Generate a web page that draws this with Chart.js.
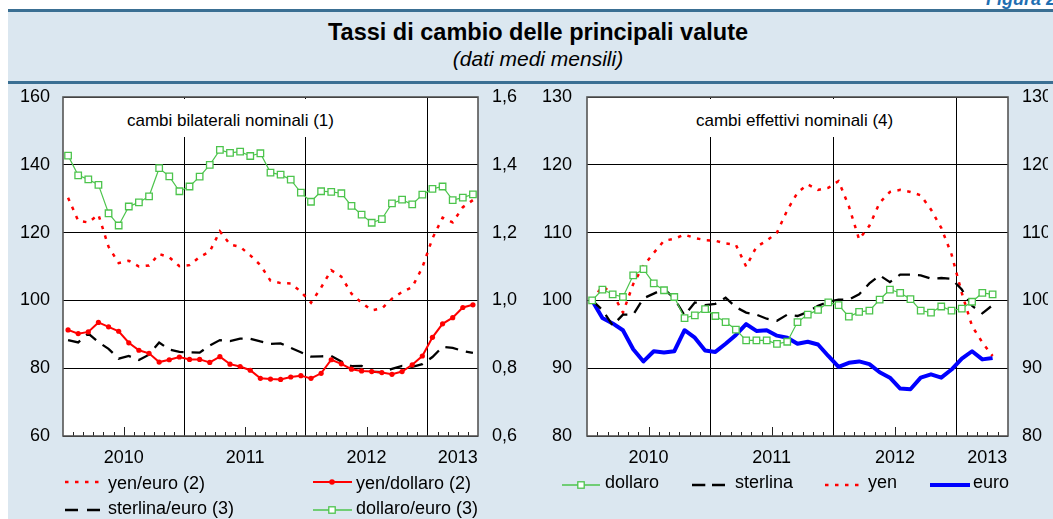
<!DOCTYPE html>
<html><head><meta charset="utf-8">
<script src="https://cdn.jsdelivr.net/npm/chart.js@4.4.0/dist/chart.umd.min.js"></script>
<style>
html,body{margin:0;padding:0;background:#fff;}
body{width:1053px;height:519px;position:relative;overflow:hidden;font-family:"Liberation Sans",Arial,Helvetica,sans-serif;color:#000;}
#panel{position:absolute;left:8px;top:10px;width:1045px;height:509px;background:#dbe7f0;}
.hline{position:absolute;left:8px;width:1045px;height:3px;background:#3a6f93;}
#fig{position:absolute;left:986px;top:-10px;font-size:18px;font-weight:bold;font-style:italic;color:#1f6fb2;line-height:1;white-space:nowrap;}
#title{position:absolute;left:0;width:1076px;top:21px;text-align:center;font-weight:bold;font-size:23.5px;line-height:1;}
#subtitle{position:absolute;left:0;width:1076px;top:48px;text-align:center;font-style:italic;font-size:21px;line-height:1;}
canvas{position:absolute;top:0;}
.box{position:absolute;background:#fff;top:99px;height:38px;}
.intitle{position:absolute;top:112px;font-size:17px;line-height:1;white-space:nowrap;}
.lt{position:absolute;font-size:18px;line-height:1;white-space:nowrap;}
svg{position:absolute;overflow:visible;}
</style>
</head><body>
<div id="fig">Figura 2.</div>
<div id="panel"></div>
<div class="hline" style="top:9px"></div>
<div class="hline" style="top:81px"></div>
<div id="title">Tassi di cambio delle principali valute</div>
<div id="subtitle">(dati medi mensili)</div>
<canvas id="c1" width="525" height="519" style="left:0;width:525px;height:519px"></canvas>
<canvas id="c2" width="528" height="519" style="left:525px;width:528px;height:519px"></canvas>

<div class="box" style="left:120px;width:232px"></div>
<div class="intitle" style="left:127px">cambi bilaterali nominali (1)</div>
<div class="box" style="left:690px;width:222px"></div>
<div class="intitle" style="left:696px">cambi effettivi nominali (4)</div>

<!-- left legend -->
<svg style="left:63px;top:477px" width="42" height="10"><line x1="2" y1="5" x2="40" y2="5" stroke="#ff0000" stroke-width="2.5" stroke-dasharray="3.5 6.5"/></svg>
<div class="lt" style="left:108px;top:474px">yen/euro (2)</div>
<svg style="left:311px;top:477px" width="44" height="10"><line x1="2" y1="5" x2="41" y2="5" stroke="#ff0000" stroke-width="2"/><circle cx="21" cy="5" r="2.8" fill="#ff0000"/></svg>
<div class="lt" style="left:356px;top:474px">yen/dollaro (2)</div>
<svg style="left:63px;top:505px" width="42" height="10"><line x1="2" y1="5" x2="38" y2="5" stroke="#000" stroke-width="2.5" stroke-dasharray="13 9"/></svg>
<div class="lt" style="left:108px;top:499px">sterlina/euro (3)</div>
<svg style="left:311px;top:505px" width="44" height="10"><line x1="2" y1="5" x2="41" y2="5" stroke="#4cc44c" stroke-width="1.3"/><rect x="17.8" y="1.8" width="6.4" height="6.4" fill="#fff" stroke="#4cc44c" stroke-width="1.3"/></svg>
<div class="lt" style="left:356px;top:499px">dollaro/euro (3)</div>

<!-- right legend -->
<svg style="left:560px;top:480px" width="44" height="10"><line x1="2" y1="5" x2="40" y2="5" stroke="#4cc44c" stroke-width="1.3"/><rect x="17.8" y="1.8" width="6.4" height="6.4" fill="#fff" stroke="#4cc44c" stroke-width="1.3"/></svg>
<div class="lt" style="left:605px;top:473px">dollaro</div>
<svg style="left:690px;top:480px" width="40" height="10"><line x1="2" y1="5" x2="35" y2="5" stroke="#000" stroke-width="2.5" stroke-dasharray="13.3 6.7"/></svg>
<div class="lt" style="left:735px;top:473px">sterlina</div>
<svg style="left:823px;top:480px" width="44" height="10"><line x1="2" y1="5" x2="40" y2="5" stroke="#ff0000" stroke-width="2.5" stroke-dasharray="3.5 6.5"/></svg>
<div class="lt" style="left:868px;top:473px">yen</div>
<svg style="left:928px;top:480px" width="44" height="10"><line x1="2" y1="5" x2="42" y2="5" stroke="#0000ff" stroke-width="4"/></svg>
<div class="lt" style="left:973px;top:473px">euro</div>

<script>
// ---------- DATA ----------
const categories = [
 'gen 10','feb 10','mar 10','apr 10','mag 10','giu 10','lug 10','ago 10','set 10','ott 10','nov 10','dic 10',
 'gen 11','feb 11','mar 11','apr 11','mag 11','giu 11','lug 11','ago 11','set 11','ott 11','nov 11','dic 11',
 'gen 12','feb 12','mar 12','apr 12','mag 12','giu 12','lug 12','ago 12','set 12','ott 12','nov 12','dic 12',
 'gen 13','feb 13','mar 13','apr 13','mag 13'];
const yearLabels = ['2010','2011','2012','2013'];

// cambi bilaterali nominali (left axis: yen; right axis: dollari/sterline per euro)
const yenEuro = [130.3,123.5,123.0,125.3,115.8,111.0,111.7,110.0,110.3,113.7,112.7,110.1,
 110.4,112.8,114.4,120.4,116.5,115.8,113.3,110.4,105.8,105.1,105.0,102.6,
 99.3,103.8,108.9,107.0,102.0,99.3,97.1,97.6,100.5,102.5,103.9,109.7,
 118.3,124.4,123.0,127.5,129.6];
const yenDollaro = [91.3,90.2,90.7,93.5,92.2,90.9,87.5,85.3,84.4,81.8,82.5,83.3,
 82.6,82.6,81.7,83.4,81.2,80.5,79.4,77.0,76.8,76.7,77.4,77.8,
 77.0,78.5,82.5,81.3,79.7,79.2,79.0,78.7,78.2,79.0,81.0,83.6,
 89.1,93.1,94.9,97.9,98.7];
const sterlinaEuro = [0.883,0.876,0.902,0.877,0.857,0.828,0.836,0.824,0.840,0.876,0.855,0.848,
 0.847,0.846,0.867,0.883,0.880,0.887,0.887,0.879,0.872,0.873,0.860,0.847,
 0.834,0.835,0.836,0.820,0.806,0.807,0.790,0.788,0.798,0.807,0.804,0.812,
 0.833,0.863,0.860,0.851,0.845];
const dollaroEuro = [1.427,1.369,1.357,1.341,1.257,1.221,1.277,1.289,1.307,1.390,1.366,1.322,
 1.336,1.365,1.400,1.444,1.435,1.439,1.426,1.434,1.377,1.371,1.356,1.318,
 1.291,1.322,1.320,1.316,1.279,1.253,1.229,1.240,1.286,1.297,1.283,1.312,
 1.329,1.336,1.296,1.303,1.313];

// cambi effettivi nominali (gen 2010 = 100)
const effDollaro = [100.0,101.6,100.9,100.5,103.7,104.6,102.5,101.5,100.5,97.4,97.8,98.7,
 97.7,96.8,95.7,94.1,94.1,94.1,93.6,93.9,96.8,97.9,98.6,99.7,
 99.3,97.6,98.3,98.5,100.1,101.6,101.1,100.2,98.5,98.2,99.1,98.5,
 98.8,99.8,101.1,100.9];
const effSterlina = [100.0,98.6,96.3,97.9,97.9,100.3,101.0,101.7,100.3,97.8,99.7,99.3,
 99.5,100.4,99.0,98.2,97.9,97.3,97.0,97.9,97.7,98.3,99.2,99.8,
 100.1,100.1,100.9,102.5,103.7,102.7,103.8,103.8,103.7,103.2,103.3,103.2,
 101.6,99.2,98.1,99.3];
const effYen = [100.0,102.1,101.0,98.2,102.4,105.1,107.0,108.8,109.1,109.7,109.2,108.9,
 108.8,108.4,108.2,105.0,107.9,108.8,110.0,113.3,115.9,117.1,116.3,116.6,
 117.6,113.9,109.0,111.0,114.4,116.0,116.3,116.0,115.5,113.4,110.7,106.8,
 101.1,96.2,93.8,91.8];
const effEuro = [100.0,97.4,96.6,95.6,92.8,91.0,92.5,92.3,92.5,95.6,94.5,92.6,
 92.4,93.6,94.9,96.5,95.5,95.6,94.8,94.5,93.6,93.9,93.5,91.8,
 90.2,90.8,91.0,90.6,89.4,88.6,87.0,86.9,88.6,89.1,88.6,89.8,
 91.4,92.5,91.3,91.5];

// ---------- STYLE ----------
const RED = '#ff0000', GREEN = '#4cc44c', BLUE = '#0000ff', BLACK = '#000000';
const FONT = '"Liberation Sans", Arial, Helvetica, sans-serif';
Chart.defaults.font.family = FONT;
Chart.defaults.font.size = 18;
Chart.defaults.color = '#000';

// year label shown at the middle month of each year present in categories
function yearLabel(i) {
  const yy = categories[i].slice(4);
  const idx = categories.map((c, k) => c.slice(4) === yy ? k : -1).filter(k => k >= 0);
  const mid = idx[0] + Math.floor((idx.length - 1) / 2);
  if (i !== mid) return '';
  const lab = '20' + yy;
  return yearLabels.includes(lab) ? lab : '';
}

const areaBg = {
  id: 'areaBg',
  beforeDraw(chart) {
    const {ctx, chartArea: a} = chart;
    ctx.save(); ctx.fillStyle = '#fff'; ctx.fillRect(a.left, a.top, a.width, a.height); ctx.restore();
  }
};
const frameTicks = {
  id: 'frameTicks',
  afterDraw(chart) {
    const {ctx, chartArea: a} = chart; const xs = chart.scales.x;
    ctx.save();
    ctx.strokeStyle = '#222'; ctx.lineWidth = 1;
    for (let i = 1; i < categories.length; i++) {
      const c = categories[i];
      if (c.startsWith('gen')) continue;
      const px = Math.round((xs.getPixelForValue(i - 1) + xs.getPixelForValue(i)) / 2) + 0.5;
      const len = c.startsWith('lug') ? 9 : 4;
      ctx.beginPath(); ctx.moveTo(px, a.bottom); ctx.lineTo(px, a.bottom - len); ctx.stroke();
    }
    ctx.strokeStyle = '#555'; ctx.lineWidth = 1.6;
    ctx.strokeRect(a.left, a.top, a.width, a.height);
    ctx.restore();
  }
};

function xScale() {
  return {
    type: 'category', offset: true,
    grid: {
      offset: true, drawTicks: false, lineWidth: 1,
      color: ctx => (ctx.index > 0 && categories[ctx.index] && categories[ctx.index].startsWith('gen')) ? '#000' : 'rgba(0,0,0,0)'
    },
    border: {display: false},
    ticks: {autoSkip: false, maxRotation: 0, minRotation: 0, padding: 11, labelOffset: 5,
            callback: (v, i) => yearLabel(i)},
    afterFit: s => { s.height = 40; }
  };
}

function lineDs(label, data, axis, opts) {
  return Object.assign({label, data, yAxisID: axis, fill: false, tension: 0, pointRadius: 0,
                        borderCapStyle: 'butt'}, opts);
}

const common = {
  responsive: false, animation: false, events: [],
  plugins: {legend: {display: false}, tooltip: {enabled: false}, title: {display: false}}
};

// ---------- LEFT CHART ----------
new Chart(document.getElementById('c1'), {
  type: 'line',
  data: {
    labels: categories,
    datasets: [
      lineDs('dollaro/euro (3)', dollaroEuro, 'y2', {borderColor: GREEN, borderWidth: 1.2, pointRadius: 4.6,
        pointStyle: 'rect', pointBackgroundColor: '#fff', pointBorderColor: GREEN, pointBorderWidth: 1.3}),
      lineDs('yen/dollaro (2)', yenDollaro, 'y', {borderColor: RED, borderWidth: 2, pointRadius: 2.6,
        pointStyle: 'circle', pointBackgroundColor: RED, pointBorderColor: RED, pointBorderWidth: 0}),
      lineDs('yen/euro (2)', yenEuro, 'y', {borderColor: RED, borderWidth: 2.5, borderDash: [3.5, 6.5]}),
      lineDs('sterlina/euro (3)', sterlinaEuro, 'y2', {borderColor: BLACK, borderWidth: 2.3, borderDash: [13, 8]})
    ]
  },
  options: Object.assign({}, common, {
    layout: {padding: {left: 13, top: 97, right: 7, bottom: 43}},
    scales: {
      x: xScale(),
      y: {position: 'left', min: 60, max: 160,
          ticks: {stepSize: 20, padding: 13},
          grid: {color: '#000', lineWidth: 1, drawTicks: false}, border: {display: false},
          afterFit: s => { s.width = 50; }},
      y2: {position: 'right', min: 0.6, max: 1.6,
          ticks: {stepSize: 0.2, padding: 14, callback: v => v.toFixed(1).replace('.', ',')},
          grid: {display: false, drawTicks: false}, border: {display: false},
          afterFit: s => { s.width = 40; }}
    }
  }),
  plugins: [areaBg, frameTicks]
});

// ---------- RIGHT CHART ----------
new Chart(document.getElementById('c2'), {
  type: 'line',
  data: {
    labels: categories,
    datasets: [
      lineDs('dollaro', effDollaro, 'y', {borderColor: GREEN, borderWidth: 1.2, pointRadius: 4.6,
        pointStyle: 'rect', pointBackgroundColor: '#fff', pointBorderColor: GREEN, pointBorderWidth: 1.3}),
      lineDs('sterlina', effSterlina, 'y', {borderColor: BLACK, borderWidth: 2.3, borderDash: [12, 8]}),
      lineDs('yen', effYen, 'y', {borderColor: RED, borderWidth: 2.5, borderDash: [3.5, 6.5]}),
      lineDs('euro', effEuro, 'y', {borderColor: BLUE, borderWidth: 4, borderJoinStyle: 'round'})
    ]
  },
  options: Object.assign({}, common, {
    layout: {padding: {left: 12, top: 97, right: 5, bottom: 43}},
    scales: {
      x: xScale(),
      y: {position: 'left', min: 80, max: 130,
          ticks: {stepSize: 10, padding: 15},
          grid: {color: '#000', lineWidth: 1, drawTicks: false}, border: {display: false},
          afterFit: s => { s.width = 50; }},
      y2: {position: 'right', min: 80, max: 130,
          ticks: {stepSize: 10, padding: 14},
          grid: {display: false, drawTicks: false}, border: {display: false},
          afterFit: s => { s.width = 40; }}
    }
  }),
  plugins: [areaBg, frameTicks]
});
</script>
</body></html>
